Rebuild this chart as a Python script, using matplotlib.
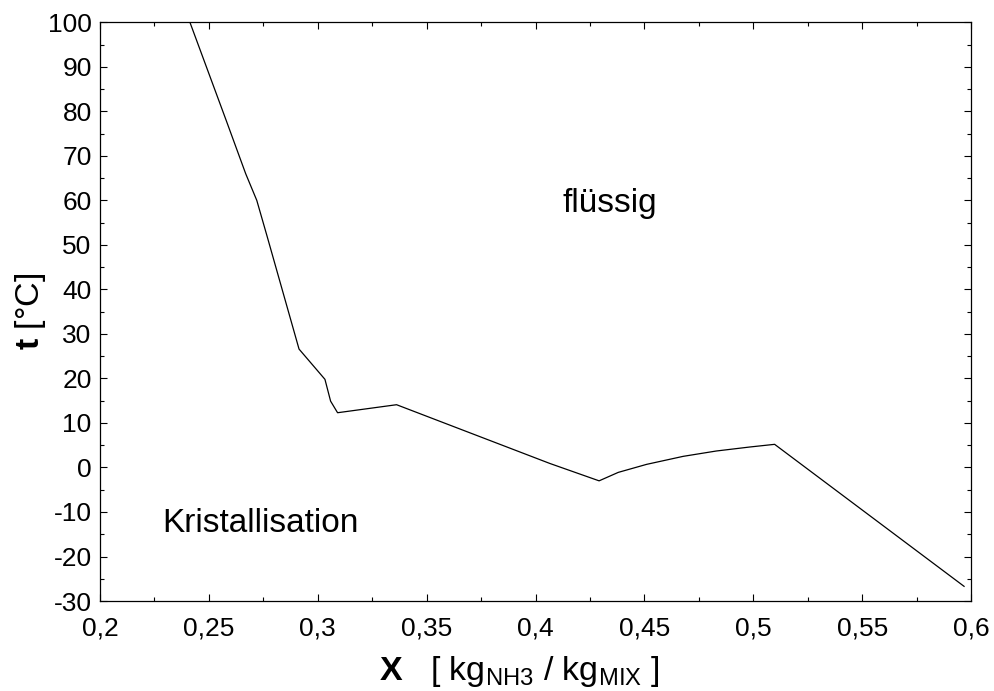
import matplotlib
matplotlib.use("Agg")
import matplotlib.pyplot as plt
from matplotlib.ticker import MultipleLocator, FuncFormatter

plt.rcParams['font.family'] = ['Liberation Sans', 'DejaVu Sans']
plt.rcParams['mathtext.fontset'] = 'custom'
plt.rcParams['mathtext.rm'] = 'Liberation Sans'
plt.rcParams['mathtext.it'] = 'Liberation Sans:italic'
plt.rcParams['mathtext.bf'] = 'Liberation Sans:bold'

# Data
x_nh3 = [0.2413, 0.2580, 0.2669, 0.2720, 0.2767, 0.2914,
         0.3033, 0.3059, 0.3091, 0.3362, 0.4066, 0.4292, 0.4380, 0.4510,
         0.4678, 0.4830, 0.4984, 0.5098, 0.5968]
t_c = [100, 77.9, 66.0, 60.0, 52.0, 26.6,
       19.8, 14.9, 12.3, 14.1, 0.9, -3.0, -1.1, 0.7,
       2.5, 3.7, 4.6, 5.2, -26.7]

x_ticks = [0.2, 0.25, 0.3, 0.35, 0.4, 0.45, 0.5, 0.55, 0.6]
y_ticks = [-30, -20, -10, 0, 10, 20, 30, 40, 50, 60, 70, 80, 90, 100]

fig = plt.figure(figsize=(9.94, 6.91), dpi=100)
ax = fig.add_axes([0.1006, 0.1302, 0.8763, 0.8375])
ax.plot(x_nh3, t_c, color='black', lw=0.9)

ax.set_xlim(0.2, 0.6)
ax.set_ylim(-30, 100)
ax.set_xticks(x_ticks)
ax.set_yticks(y_ticks)
ax.xaxis.set_minor_locator(MultipleLocator(0.025))
ax.yaxis.set_minor_locator(MultipleLocator(5))

def xfmt(v, pos):
    s = f"{v:.2f}".rstrip('0')
    if s.endswith('.'):
        s = s[:-1]
    return s.replace('.', ',')

ax.xaxis.set_major_formatter(FuncFormatter(xfmt))
ax.yaxis.set_major_formatter(FuncFormatter(lambda v, p: f"{int(round(v))}"))

ax.tick_params(which='both', direction='in', top=True, right=True, labelsize=19, width=0.8)
ax.tick_params(which='major', length=5)
ax.tick_params(axis='x', which='major', pad=11)
ax.tick_params(axis='y', which='major', pad=6)
ax.tick_params(which='minor', length=2.8)
for sp in ax.spines.values():
    sp.set_linewidth(0.9)

ax.set_xlabel(r"$\mathbf{X}$   [ kg$_{\mathrm{NH3}}$ / kg$_{\mathrm{MIX}}$ ]", fontsize=24.5)
ax.xaxis.set_label_coords(0.482, -0.092)
ax.set_ylabel(r"$\mathbf{t}$ [°C]", fontsize=24.5, labelpad=0)

ax.text(0.434, 59.3, "flüssig", fontsize=24, ha='center', va='center')
ax.text(0.2735, -12.5, "Kristallisation", fontsize=24, ha='center', va='center')

fig.savefig("out.png", dpi=100)
